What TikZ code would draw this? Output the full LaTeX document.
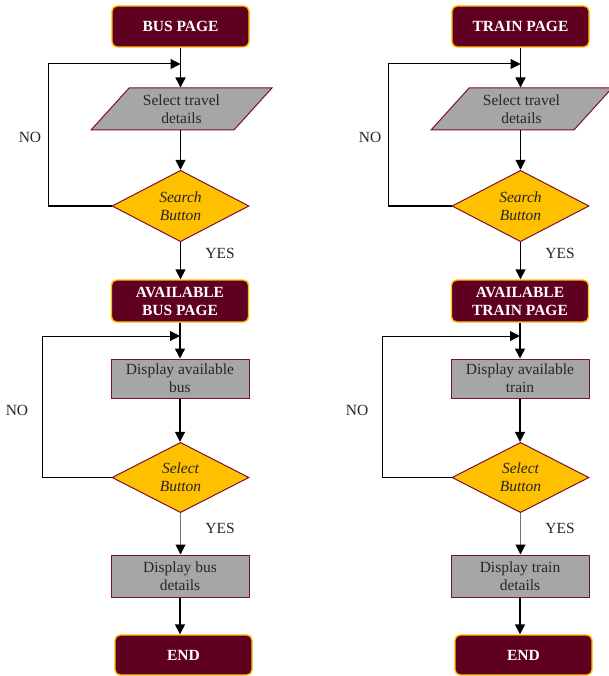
\documentclass[tikz,border=0pt]{standalone}
\usepackage{fontspec}
\setmainfont{Liberation Serif}
\usetikzlibrary{shapes.geometric,arrows.meta}
\definecolor{maroon}{HTML}{600020}
\definecolor{edgemaroon}{HTML}{7A1030}
\definecolor{gold}{HTML}{FFC000}
\definecolor{boxgray}{HTML}{A6A6A6}
\tikzset{
  pagebox/.style={draw=gold, line width=1.4pt, fill=maroon, rounded corners=5pt,
    minimum width=137pt, minimum height=41pt, text=white, font=\fontsize{15.5}{18}\selectfont\bfseries, align=center, inner sep=1pt},
  procbox/.style={draw=edgemaroon, line width=1pt, fill=boxgray, minimum width=138pt,
    minimum height=40pt, text=black!85, font=\fontsize{15.5}{18}\selectfont, align=center, inner sep=1pt},
  inbox/.style={trapezium, trapezium left angle=46, trapezium right angle=134, trapezium stretches=true,
    draw=edgemaroon, line width=1pt, fill=boxgray, minimum width=181pt, minimum height=42pt,
    text=black!85, font=\fontsize{15.5}{18}\selectfont, align=center, inner sep=0pt},
  decbox/.style={diamond, draw=edgemaroon, line width=1pt, fill=gold, minimum width=137pt,
    minimum height=68pt, inner sep=0pt, text=black!85, font=\fontsize{15.5}{18}\selectfont\itshape, align=center},
  arr/.style={draw=black, line width=1.5pt, -{Triangle[length=10pt,width=10pt]}},
  thinarr/.style={draw=black!55, line width=1pt, -{Triangle[length=10pt,width=10pt,fill=black,color=black]}},
  loopln/.style={draw=black, line width=1pt, -{Triangle[length=10pt,width=10pt]}},
  lbl/.style={font=\fontsize{15.5}{18}\selectfont, text=black!85, inner sep=0pt},
}
\newcommand{\flowcolumn}[5]{%
\begin{scope}[xshift=#1, name prefix=#2-]
  \node[pagebox] (top) at (180.5,26.5) {#3};
  \node[inbox] (para) at (181.5,109) {Select travel\\details};
  \node[decbox] (search) at (180.5,206) {Search\\Button};
  \node[pagebox, minimum height=42pt] (avail) at (180,301) {AVAILABLE\\#4 PAGE};
  \node[procbox, minimum height=39pt] (disp) at (180,378.5) {Display available\\#5};
  \node[decbox, minimum height=69pt] (sel) at (180.5,477.5) {Select\\Button};
  \node[procbox, minimum height=42pt] (det) at (180,576) {Display #5\\details};
  \node[pagebox, minimum height=40pt] (end) at (183.5,655) {END};
  \coordinate (j1) at (180.5,64);
  \coordinate (j2) at (180,336);
  \draw[arr] (top.south) -- (para.north -| top.south);
  \draw[arr] (para.south -| search.north) -- (search.north);
  \draw[arr] (search.south) -- (avail.north -| search.south);
  \draw[arr] (avail.south) -- (disp.north);
  \draw[arr] (disp.south) -- (sel.north -| disp.south);
  \draw[thinarr] (sel.south) -- (det.north -| sel.south);
  \draw[arr] (det.south) -- (end.north -| det.south);
  \draw[loopln] (search.west) -- ++(-63.5,0) |- (j1);
  \draw[loopln] (sel.west) -- ++(-69.5,0) |- (j2);
  \node[lbl] (no1) at (30,137) {NO};
  \node[lbl] (no2) at (17,410) {NO};
  \node[lbl] (yes1) at (220,253) {YES};
  \node[lbl] (yes2) at (220,528) {YES};
\end{scope}}
\begin{document}
\begin{tikzpicture}[x=1pt,y=-1pt]
\useasboundingbox (0,0) rectangle (608,676);
\flowcolumn{0pt}{b}{BUS PAGE}{BUS}{bus}
\flowcolumn{340pt}{t}{TRAIN PAGE}{TRAIN}{train}
\end{tikzpicture}
\end{document}
